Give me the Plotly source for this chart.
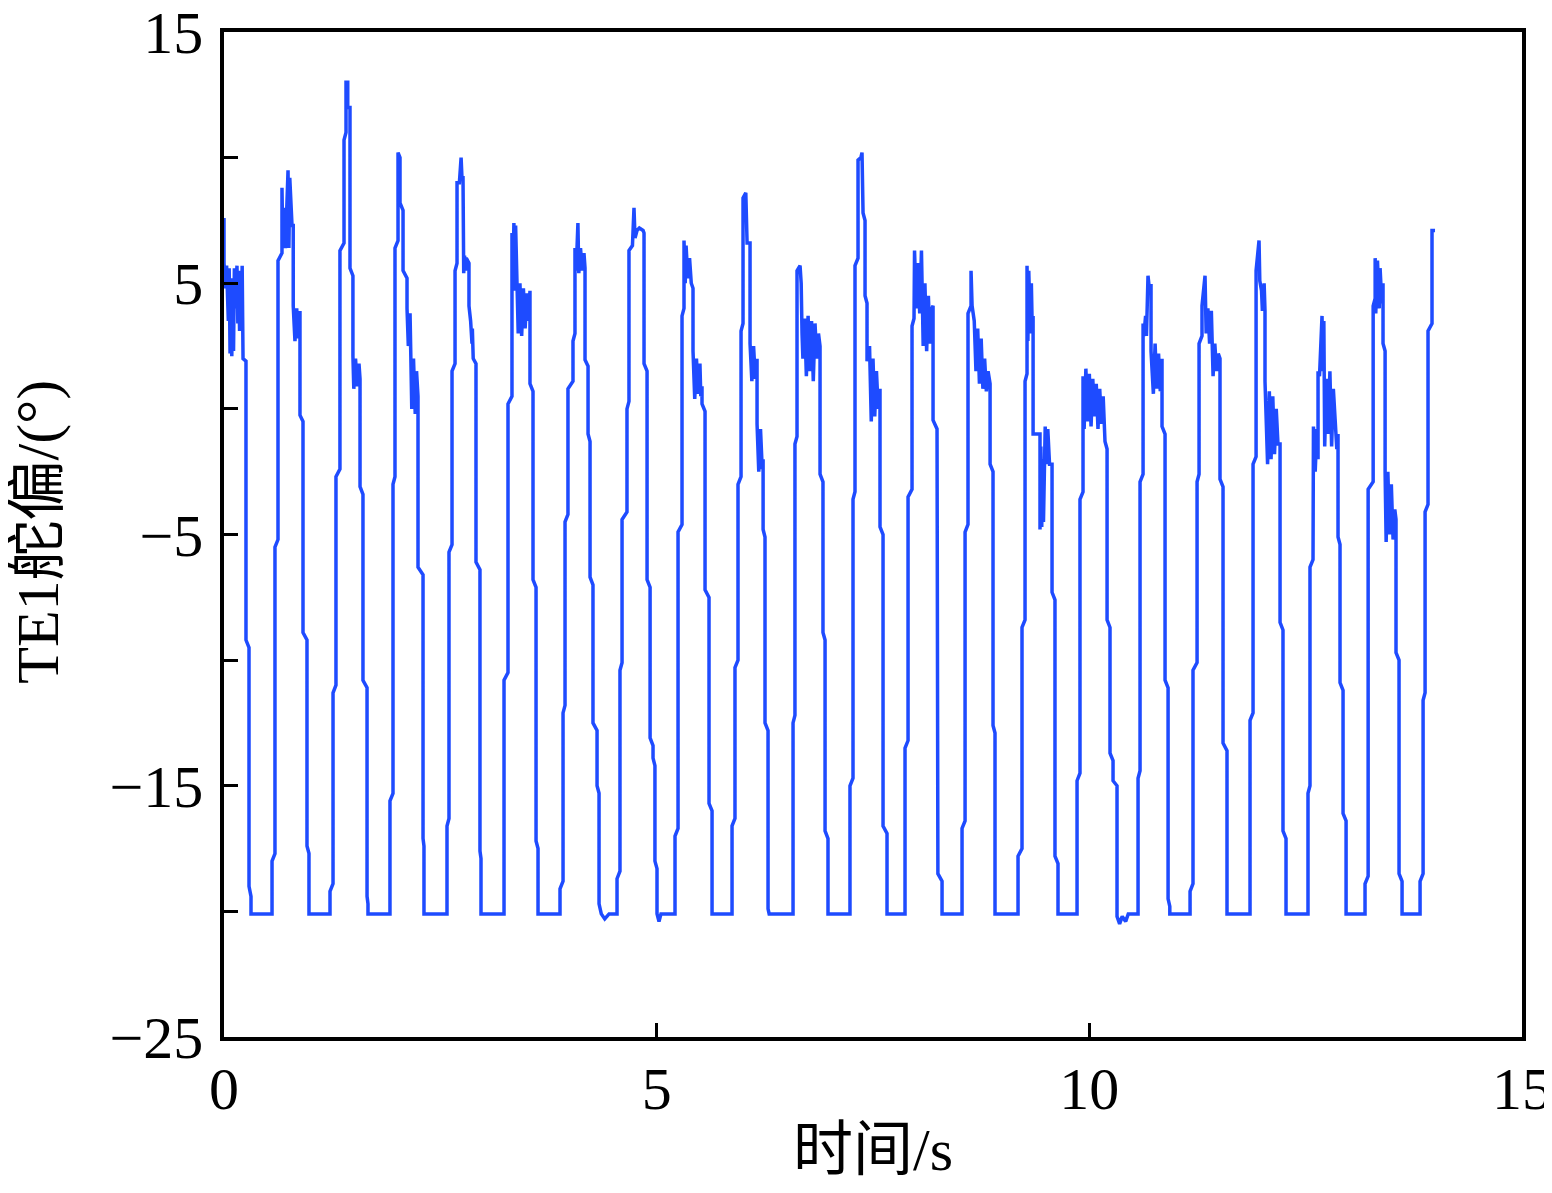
import plotly.graph_objects as go

# TE1 deflection (deg) vs time (s), vertices, one list per cycle
c00 = [(0.0, 7.6), (0.0, 5.8), (0.02, 4.8), (0.03, 5.7), (0.05, 3.5), (0.06, 5.6), (0.07, 2.2), (0.08, 5.2),
       (0.09, 2.1), (0.10, 4.8), (0.11, 2.3), (0.12, 5.6), (0.13, 4.0), (0.15, 5.7), (0.16, 3.4), (0.17, 5.5),
       (0.18, 3.1), (0.19, 5.0), (0.20, 3.2), (0.21, 5.7), (0.22, 2.0), (0.254, 1.9), (0.254, -9.2), (0.289, -9.5),
       (0.289, -19.0), (0.312, -19.4), (0.312, -20.1)]
c01 = [(0.555, -20.1), (0.555, -18.0), (0.589, -17.7), (0.589, -5.5), (0.624, -5.2), (0.624, 5.9), (0.67, 6.2),
       (0.67, 8.8), (0.68, 6.5), (0.70, 8.0), (0.71, 6.4), (0.74, 9.5), (0.75, 6.4), (0.76, 9.2), (0.786, 7.3),
       (0.80, 7.3), (0.80, 4.1), (0.82, 2.7), (0.84, 4.0), (0.86, 2.8), (0.878, 3.9), (0.878, -0.25), (0.913, -0.5),
       (0.913, -8.9), (0.959, -9.2), (0.959, -17.4), (0.982, -17.7), (0.982, -20.1)]
c02 = [(1.225, -20.1), (1.225, -19.2), (1.26, -18.9), (1.26, -11.3), (1.294, -11.0), (1.294, -2.7), (1.34, -2.4),
       (1.34, 6.3), (1.387, 6.6), (1.387, 10.7), (1.41, 11.0), (1.41, 13.0), (1.43, 13.0), (1.43, 12.0),
       (1.456, 12.0), (1.456, 5.6), (1.49, 5.3), (1.49, 2.1), (1.50, 0.8), (1.52, 2.0), (1.54, 0.9), (1.56, 1.8),
       (1.572, 1.2), (1.572, -3.1), (1.606, -3.4), (1.606, -10.8), (1.653, -11.1), (1.653, -19.4), (1.664, -19.7),
       (1.664, -20.1)]
c03 = [(1.918, -20.1), (1.918, -15.6), (1.953, -15.3), (1.953, -3.0), (1.976, -2.7), (1.976, 6.4), (2.011, 6.7),
       (2.011, 10.2), (2.034, 10.0), (2.034, 8.2), (2.069, 7.9), (2.069, 5.5), (2.115, 5.2), (2.115, 4.0),
       (2.13, 2.5), (2.15, 3.8), (2.17, 0.0), (2.19, 2.0), (2.21, -0.2), (2.225, 1.5), (2.242, 0.5), (2.242, -6.3),
       (2.30, -6.6), (2.30, -17.1), (2.311, -17.4), (2.311, -20.1)]
c04 = [(2.577, -20.1), (2.577, -16.6), (2.60, -16.3), (2.60, -5.7), (2.635, -5.4), (2.635, 1.5), (2.67, 1.8),
       (2.67, 5.5), (2.693, 5.8), (2.693, 9.0), (2.72, 9.0), (2.74, 10.0), (2.75, 9.2), (2.762, 9.2), (2.762, 6.1),
       (2.77, 5.4), (2.78, 6.1), (2.79, 5.5), (2.80, 6.0), (2.831, 5.8), (2.831, 4.1), (2.85, 3.5), (2.866, 2.6),
       (2.87, 3.2), (2.88, 2.0), (2.912, 1.8), (2.912, -6.1), (2.958, -6.4), (2.958, -17.6), (2.97, -17.9),
       (2.97, -20.1)]
c05 = [(3.236, -20.1), (3.236, -10.8), (3.282, -10.5), (3.282, 0.2), (3.328, 0.5), (3.328, 7.0), (3.34, 5.0),
       (3.35, 7.4), (3.36, 4.7), (3.37, 7.3), (3.38, 5.2), (3.40, 3.0), (3.42, 5.0), (3.44, 2.9), (3.46, 4.8),
       (3.48, 3.2), (3.50, 4.6), (3.52, 3.5), (3.536, 4.7), (3.536, 1.0), (3.571, 0.7), (3.571, -6.8),
       (3.606, -7.1), (3.606, -17.2), (3.629, -17.5), (3.629, -20.1)]
c06 = [(3.883, -20.1), (3.883, -19.1), (3.918, -18.8), (3.918, -12.1), (3.941, -11.8), (3.941, -4.5),
       (3.975, -4.2), (3.975, 0.8), (4.033, 1.1), (4.033, 2.7), (4.056, 3.0), (4.056, 6.4), (4.07, 5.5),
       (4.09, 7.4), (4.10, 5.4), (4.12, 6.4), (4.14, 5.5), (4.16, 6.2), (4.172, 5.6), (4.172, 1.95), (4.207, 1.7),
       (4.207, -1.0), (4.23, -1.3), (4.23, -6.7), (4.264, -7.0), (4.264, -12.5), (4.311, -12.8), (4.311, -15.0),
       (4.334, -15.3), (4.334, -19.7), (4.36, -20.1), (4.40, -20.3), (4.45, -20.1)]
c07 = [(4.542, -20.1), (4.542, -18.7), (4.576, -18.4), (4.576, -10.4), (4.60, -10.1), (4.60, -4.4),
       (4.657, -4.1), (4.657, 0.0), (4.68, 0.3), (4.68, 6.3), (4.72, 6.5), (4.738, 8.0), (4.75, 6.8),
       (4.773, 7.1), (4.80, 7.2), (4.843, 7.1), (4.854, 7.0), (4.854, 1.8), (4.889, 1.5), (4.889, -6.8),
       (4.924, -7.1), (4.924, -13.1), (4.958, -13.4), (4.958, -13.9), (4.98, -14.2), (4.98, -18.0),
       (5.004, -18.3), (5.004, -20.1), (5.027, -20.4), (5.05, -20.1)]
c08 = [(5.212, -20.1), (5.212, -17.0), (5.247, -16.7), (5.247, -4.9), (5.293, -4.6), (5.293, 3.7), (5.316, 4.0),
       (5.316, 6.7), (5.33, 5.0), (5.34, 6.5), (5.36, 5.2), (5.38, 6.0), (5.40, 5.0), (5.42, 4.8), (5.42, 2.3),
       (5.44, 0.4), (5.46, 2.0), (5.48, 0.6), (5.50, 1.8), (5.51, 0.5), (5.524, 0.9), (5.524, 0.2), (5.559, -0.1),
       (5.559, -7.2), (5.605, -7.5), (5.605, -15.7), (5.64, -16.0), (5.64, -20.1)]
c09 = [(5.871, -20.1), (5.871, -16.6), (5.905, -16.3), (5.905, -10.3), (5.94, -10.0), (5.94, -3.0),
       (5.975, -2.7), (5.975, 3.1), (5.998, 3.4), (5.998, 8.4), (6.03, 8.6), (6.045, 6.6), (6.079, 6.6),
       (6.079, 2.6), (6.10, 1.1), (6.12, 2.5), (6.14, 1.2), (6.16, 2.0), (6.16, -0.6), (6.18, -2.5), (6.20, -0.8),
       (6.22, -2.4), (6.23, -2.0), (6.23, -4.8), (6.252, -5.1), (6.252, -12.5), (6.287, -12.8), (6.287, -19.9),
       (6.30, -20.1)]
c10 = [(6.576, -20.1), (6.576, -12.5), (6.598, -12.2), (6.598, -1.4), (6.622, -1.1), (6.622, 5.5), (6.657, 5.7),
       (6.67, 5.0), (6.68, 3.0), (6.69, 2.0), (6.71, 3.6), (6.73, 1.3), (6.75, 3.7), (6.77, 1.5), (6.79, 3.5),
       (6.81, 1.1), (6.83, 3.4), (6.85, 2.0), (6.87, 3.0), (6.888, 2.5), (6.888, -2.6), (6.922, -2.9),
       (6.922, -8.9), (6.946, -9.2), (6.946, -16.8), (6.98, -17.1), (6.98, -20.1)]
c11 = [(7.234, -20.1), (7.234, -15.0), (7.269, -14.7), (7.269, -3.6), (7.292, -3.3), (7.292, 5.7), (7.327, 6.0),
       (7.327, 9.9), (7.36, 10.0), (7.373, 10.2), (7.385, 7.8), (7.408, 7.5), (7.408, 4.5), (7.431, 4.2),
       (7.431, 1.9), (7.46, 2.5), (7.48, -0.5), (7.50, 2.0), (7.52, -0.3), (7.54, 1.5), (7.56, 0.0), (7.581, 0.8),
       (7.581, -4.7), (7.616, -5.0), (7.616, -16.6), (7.662, -16.9), (7.662, -20.1)]
c12 = [(7.87, -20.1), (7.87, -13.5), (7.905, -13.2), (7.905, -3.5), (7.951, -3.2), (7.951, 3.3), (7.974, 3.6),
       (7.974, 6.1), (7.98, 6.3), (8.00, 4.0), (8.02, 5.8), (8.04, 3.8), (8.06, 6.3), (8.08, 2.5), (8.10, 5.0),
       (8.12, 2.3), (8.14, 4.5), (8.16, 2.6), (8.18, 4.0), (8.194, 4.1), (8.194, -0.45), (8.24, -0.8),
       (8.24, -9.3), (8.25, -9.6), (8.25, -18.5), (8.298, -18.8), (8.298, -20.1)]
c13 = [(8.529, -20.1), (8.529, -16.7), (8.564, -16.4), (8.564, -4.9), (8.598, -4.6), (8.598, 3.8), (8.633, 4.1),
       (8.633, 5.5), (8.645, 4.1), (8.67, 3.5), (8.69, 1.5), (8.71, 3.2), (8.73, 1.0), (8.75, 2.8), (8.77, 0.8),
       (8.79, 2.0), (8.81, 0.7), (8.83, 1.5), (8.853, 1.0), (8.853, -2.2), (8.887, -2.5), (8.887, -12.6),
       (8.91, -12.9), (8.91, -20.1)]
c14 = [(9.176, -20.1), (9.176, -17.8), (9.222, -17.5), (9.222, -8.7), (9.257, -8.4), (9.257, 1.1), (9.28, 1.4),
       (9.28, 5.7), (9.29, 2.7), (9.30, 5.5), (9.32, 3.0), (9.33, 5.0), (9.34, 3.2), (9.35, 3.7), (9.35, -1.0),
       (9.43, -1.0), (9.43, -4.8), (9.44, -1.5), (9.45, -4.7), (9.46, -2.0), (9.47, -4.5), (9.49, -0.7),
       (9.50, -2.2), (9.52, -0.8), (9.54, -2.2), (9.569, -2.2), (9.569, -7.3), (9.603, -7.6), (9.603, -17.8),
       (9.638, -18.1), (9.638, -20.1)]
c15 = [(9.858, -20.1), (9.858, -14.8), (9.892, -14.5), (9.892, -3.6), (9.927, -3.3), (9.927, 1.3), (9.94, -0.8),
       (9.96, 1.6), (9.98, -0.5), (10.00, 1.4), (10.02, -0.7), (10.04, 1.2), (10.06, -0.3), (10.08, 1.0),
       (10.10, -0.8), (10.12, 0.8), (10.14, -0.6), (10.16, 0.5), (10.181, -0.8), (10.181, -1.3), (10.205, -1.6),
       (10.205, -8.4), (10.239, -8.7), (10.239, -13.7), (10.274, -14.0), (10.274, -14.8), (10.32, -15.0),
       (10.32, -20.2), (10.35, -20.5), (10.38, -20.2), (10.42, -20.4), (10.45, -20.1)]
c16 = [(10.563, -20.1), (10.563, -14.7), (10.586, -14.4), (10.586, -2.9), (10.621, -2.6), (10.621, 3.4),
       (10.63, 2.9), (10.65, 3.7), (10.66, 2.9), (10.678, 5.3), (10.69, 4.9), (10.713, 4.9), (10.713, 2.3),
       (10.74, 0.6), (10.76, 2.6), (10.78, 0.8), (10.80, 2.2), (10.82, 0.7), (10.84, 2.0), (10.84, -0.7),
       (10.875, -1.0), (10.875, -10.8), (10.91, -11.1), (10.91, -19.5), (10.93, -19.8), (10.93, -20.1)]
c17 = [(11.164, -20.1), (11.164, -19.2), (11.198, -18.9), (11.198, -10.4), (11.245, -10.1), (11.245, -2.9),
       (11.268, -2.6), (11.268, 2.6), (11.302, 2.9), (11.302, 4.1), (11.337, 5.3), (11.35, 3.0), (11.37, 4.0),
       (11.39, 2.6), (11.41, 3.9), (11.43, 1.3), (11.45, 2.6), (11.47, 1.5), (11.49, 2.2), (11.51, 2.0),
       (11.51, -2.8), (11.545, -3.1), (11.545, -13.3), (11.591, -13.6), (11.591, -20.1)]
c18 = [(11.857, -20.1), (11.857, -12.4), (11.892, -12.1), (11.892, -2.2), (11.927, -1.9), (11.927, 5.5),
       (11.961, 6.7), (11.97, 5.1), (11.99, 4.7), (12.00, 3.9), (12.02, 5.0), (12.03, 3.9), (12.03, 1.1),
       (12.06, -2.2), (12.08, 0.7), (12.10, -2.0), (12.12, 0.5), (12.14, -1.8), (12.16, 0.0), (12.18, -1.4),
       (12.204, -1.4), (12.204, -8.5), (12.238, -8.8), (12.238, -16.8), (12.273, -17.1), (12.273, -20.1)]
c19 = [(12.527, -20.1), (12.527, -15.3), (12.55, -15.0), (12.55, -6.3), (12.585, -6.0), (12.585, -2.4),
       (12.59, -0.7), (12.61, -2.5), (12.63, -0.8), (12.643, -2.0), (12.643, 1.5), (12.66, 1.3), (12.689, 3.7),
       (12.70, 1.5), (12.71, 3.5), (12.72, -1.5), (12.74, 1.2), (12.76, -1.0), (12.78, 1.5), (12.80, -1.5),
       (12.82, 0.8), (12.84, -0.4), (12.86, -1.6), (12.874, -1.0), (12.874, -5.1), (12.897, -5.4),
       (12.897, -10.9), (12.932, -11.2), (12.932, -16.1), (12.967, -16.4), (12.967, -20.1)]
c20 = [(13.186, -20.1), (13.186, -18.9), (13.222, -18.6), (13.222, -3.2), (13.28, -2.9), (13.28, 4.1),
       (13.303, 4.4), (13.303, 6.0), (13.31, 3.8), (13.33, 5.9), (13.35, 4.0), (13.36, 5.6), (13.38, 4.2),
       (13.394, 5.0), (13.394, 2.6), (13.418, 2.3), (13.418, -2.5), (13.43, -5.3), (13.45, -2.5), (13.47, -5.0),
       (13.49, -3.0), (13.51, -5.2), (13.53, -4.0), (13.544, -4.4), (13.544, -9.7), (13.579, -10.0),
       (13.579, -18.5), (13.614, -18.8), (13.614, -20.1)]
c21 = [(13.822, -20.1), (13.822, -18.8), (13.857, -18.5), (13.857, -11.6), (13.88, -11.3), (13.88, -4.1),
       (13.914, -3.8), (13.914, 3.1), (13.96, 3.4), (13.96, 7.1), (13.995, 7.1)]

cycles = [c00, c01, c02, c03, c04, c05, c06, c07, c08, c09, c10,
          c11, c12, c13, c14, c15, c16, c17, c18, c19, c20, c21]

x_ticks = [0, 5, 10, 15]
x_tick_text = ["0", "5", "10", "15"]
y_ticks = [-25, -20, -15, -10, -5, 0, 5, 10, 15]
y_tick_text = ["\u221225", "", "\u221215", "", "\u22125", "", "5", "", "15"]
x_title = "时间/s"
y_title = "TE1舵偏/(°)"

t = [p[0] for c in cycles for p in c]
v = [p[1] for c in cycles for p in c]

FONT = "Liberation Serif, Times New Roman, Noto Sans CJK SC, serif"

fig = go.Figure()
fig.add_trace(go.Scatter(x=t, y=v, mode="lines",
                         line=dict(color="#1E4BFF", width=3.5), hoverinfo="skip"))

axis_common = dict(showline=True, linecolor="black", linewidth=3.5, mirror=True,
                   ticks="inside", ticklen=14, tickwidth=3, tickcolor="black",
                   showgrid=False, zeroline=False, automargin=False,
                   ticklabeloverflow="allow",
                   tickfont=dict(family=FONT, size=60, color="black"))

# the page body adds an 8 px offset; the figure is sized so the plot box lands where the reference has it
fig.update_layout(
    width=1544, height=1185,
    margin=dict(l=216, r=30, t=24, b=156),
    paper_bgcolor="white", plot_bgcolor="white",
    showlegend=False,
    xaxis=dict(range=[0, 15], tickvals=x_ticks, ticktext=x_tick_text,
               ticklabelstandoff=-4, **axis_common),
    yaxis=dict(range=[-25, 15], tickvals=y_ticks, ticktext=y_tick_text,
               ticklabelstandoff=5, **axis_common),
    annotations=[
        dict(text=x_title, xref="paper", yref="paper", x=0.5, y=-0.1124,
             xanchor="center", yanchor="middle", showarrow=False,
             font=dict(family=FONT, size=60, color="black")),
        dict(text=y_title, xref="paper", yref="paper", x=-0.1435, y=0.5025,
             xanchor="center", yanchor="middle", textangle=-90, showarrow=False,
             font=dict(family=FONT, size=60, color="black")),
    ],
)

fig.write_html("out.html")
